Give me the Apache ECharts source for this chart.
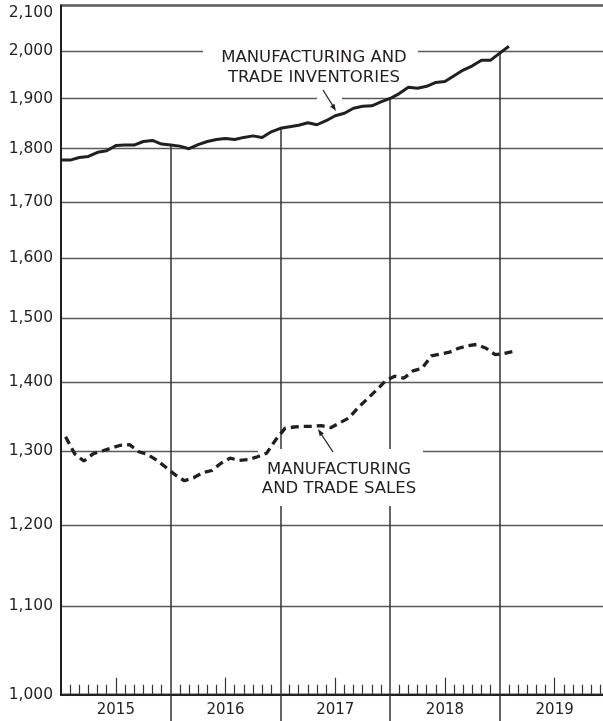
<!DOCTYPE html>
<html>
<head>
<meta charset="utf-8">
<script src="https://cdn.jsdelivr.net/npm/echarts@6/dist/echarts.min.js"></script>
<style>
  html, body { margin: 0; padding: 0; background: #fff; }
  #chart { width: 603px; height: 721px; }
</style>
</head>
<body>
<div id="chart"></div>
<script>
// ---- data ----
const years = ['2015', '2016', '2017', '2018', '2019'];
const yTicks = [1000, 1100, 1200, 1300, 1400, 1500, 1600, 1700, 1800, 1900, 2000, 2100];
const yTickLabels = ['1,000', '1,100', '1,200', '1,300', '1,400', '1,500', '1,600', '1,700', '1,800', '1,900', '2,000', '2,100'];
// end-of-month inventories, index 0 = start of Jan 2015 (billions)
const inventories = [
  1778, 1778, 1783, 1785, 1793, 1796, 1806, 1807, 1807, 1814,
  1816, 1809, 1807, 1805, 1800, 1808, 1814, 1818, 1820, 1818,
  1822, 1825, 1822, 1833, 1840, 1843, 1846, 1851, 1847, 1855,
  1865, 1870, 1880, 1884, 1885, 1893, 1900, 1910, 1923, 1921,
  1925, 1933, 1935, 1947, 1959, 1968, 1980, 1980, 1995, 2010
];
// monthly sales Jan 2015 .. Feb 2019, plotted mid-month
const sales = [
  1320, 1296, 1286, 1296, 1300, 1304, 1308, 1309, 1299, 1295,
  1287, 1277, 1267, 1259, 1263, 1270, 1273, 1283, 1290, 1287,
  1288, 1292, 1297, 1316, 1332, 1334, 1335, 1335, 1336, 1333,
  1340, 1347, 1362, 1375, 1388, 1402, 1409, 1406, 1417, 1421,
  1440, 1443, 1446, 1452, 1456, 1458, 1452, 1442, 1444, 1447
];
const invLabel = 'MANUFACTURING AND\nTRADE INVENTORIES';
const salesLabel = 'MANUFACTURING\nAND TRADE SALES';

// ---- derived ----
const nMonths = years.length * 12;
const yearBounds = [];
const yearMids = [];
const monthTicks = [];
for (let y = 0; y < years.length; y++) {
  if (y > 0) yearBounds.push(y * 12);
  yearMids.push(y * 12 + 6);
}
for (let m = 1; m < nMonths; m++) {
  if (m % 6 !== 0) monthTicks.push(m);
}
const invData = inventories.map((v, i) => [i, v]);
const salesData = sales.map((v, i) => [i + 0.5, v]);
const yearLines = yearBounds.filter(b => b < inventories.length).map(b => [
  { coord: [b, yTicks[0]] },
  { coord: [b, inventories[b]] }
]);

const INK = '#231f20';
const FONT = '"DejaVu Sans", sans-serif';

const chart = echarts.init(document.getElementById('chart'), null, { renderer: 'canvas' });

const baseX = { type: 'value', min: 0, max: nMonths, gridIndex: 0, position: 'bottom', splitLine: { show: false } };

chart.setOption({
  animation: false,
  backgroundColor: '#fff',
  grid: {
    left: 61, top: 5.5, width: 548.5, height: 689.2,
    outerBoundsMode: 'none', containLabel: false,
    show: true, borderColor: INK, borderWidth: 2, backgroundColor: 'transparent'
  },
  xAxis: [
    Object.assign({}, baseX, {
      axisLine: { show: true, lineStyle: { color: INK, width: 2 } },
      axisTick: { show: true, inside: false, length: 27, customValues: yearBounds, lineStyle: { color: '#333', width: 1.5 } },
      axisLabel: {
        show: true, customValues: yearMids, margin: 8,
        formatter: v => years[Math.round((v - 6) / 12)],
        color: INK, fontSize: 15, fontFamily: FONT
      }
    }),
    Object.assign({}, baseX, {
      axisLine: { show: false },
      axisTick: { show: true, inside: true, length: 10, customValues: monthTicks, lineStyle: { color: '#333', width: 1.2 } },
      axisLabel: { show: false }
    }),
    Object.assign({}, baseX, {
      axisLine: { show: false },
      axisTick: { show: true, inside: true, length: 17, customValues: yearMids, lineStyle: { color: '#333', width: 1.2 } },
      axisLabel: { show: false }
    })
  ],
  yAxis: {
    type: 'log', logBase: 10, min: yTicks[0], max: yTicks[yTicks.length - 1],
    axisLine: { show: true, lineStyle: { color: INK, width: 2 } },
    axisTick: { show: false, customValues: yTicks },
    axisLabel: {
      show: true, customValues: yTicks, margin: 8,
      color: INK, fontSize: 15.5, fontFamily: FONT,
      formatter: v => {
        const idx = yTicks.findIndex(t => Math.abs(t - v) < 0.5);
        const s = idx >= 0 ? yTickLabels[idx] : '';
        return idx === yTicks.length - 1 ? '{t|' + s + '}' : s;
      },
      rich: { t: { padding: [14, 0, 0, 0], color: INK, fontSize: 15.5, fontFamily: FONT } }
    },
    splitLine: { show: true, lineStyle: { color: '#5a5a5a', width: 1.4 } }
  },
  series: [
    {
      name: 'Inventories', type: 'line', xAxisIndex: 0, data: invData,
      showSymbol: false, symbol: 'none', z: 3,
      lineStyle: { color: INK, width: 3, join: 'round' },
      markLine: {
        silent: true, symbol: 'none', z: 1, animation: false,
        label: { show: false },
        lineStyle: { color: '#333', width: 1.5, type: 'solid' },
        data: yearLines
      }
    },
    {
      name: 'Sales', type: 'line', xAxisIndex: 0, data: salesData,
      showSymbol: false, symbol: 'none', z: 3,
      lineStyle: { color: INK, width: 3.3, type: [8, 5], cap: 'butt' }
    }
  ],
  graphic: [
    { type: 'rect', z: 2, shape: { x: 203, y: 44, width: 215, height: 46 }, style: { fill: '#fff' } },
    { type: 'rect', z: 2, shape: { x: 317, y: 93, width: 25, height: 13 }, style: { fill: '#fff' } },
    { type: 'rect', z: 2, shape: { x: 258, y: 449, width: 165, height: 57 }, style: { fill: '#fff' } },
    { type: 'text', z: 4, x: 314, y: 68, style: { text: invLabel, font: '16.5px ' + FONT, fill: INK, align: 'center', verticalAlign: 'middle', lineHeight: 20 } },
    { type: 'text', z: 4, x: 339, y: 479, style: { text: salesLabel, font: '16.5px ' + FONT, fill: INK, align: 'center', verticalAlign: 'middle', lineHeight: 19.5 } },
    { type: 'line', z: 4, shape: { x1: 323, y1: 90, x2: 333, y2: 106 }, style: { stroke: INK, lineWidth: 1.3 } },
    { type: 'polygon', z: 4, shape: { points: [[336, 111], [330.2, 106.4], [334.4, 103.7]] }, style: { fill: INK } },
    { type: 'line', z: 4, shape: { x1: 333, y1: 452, x2: 320.5, y2: 433 }, style: { stroke: INK, lineWidth: 1.3 } },
    { type: 'polygon', z: 4, shape: { points: [[318, 429], [323.9, 433.5], [319.7, 436.2]] }, style: { fill: INK } }
  ]
});
</script>
</body>
</html>
